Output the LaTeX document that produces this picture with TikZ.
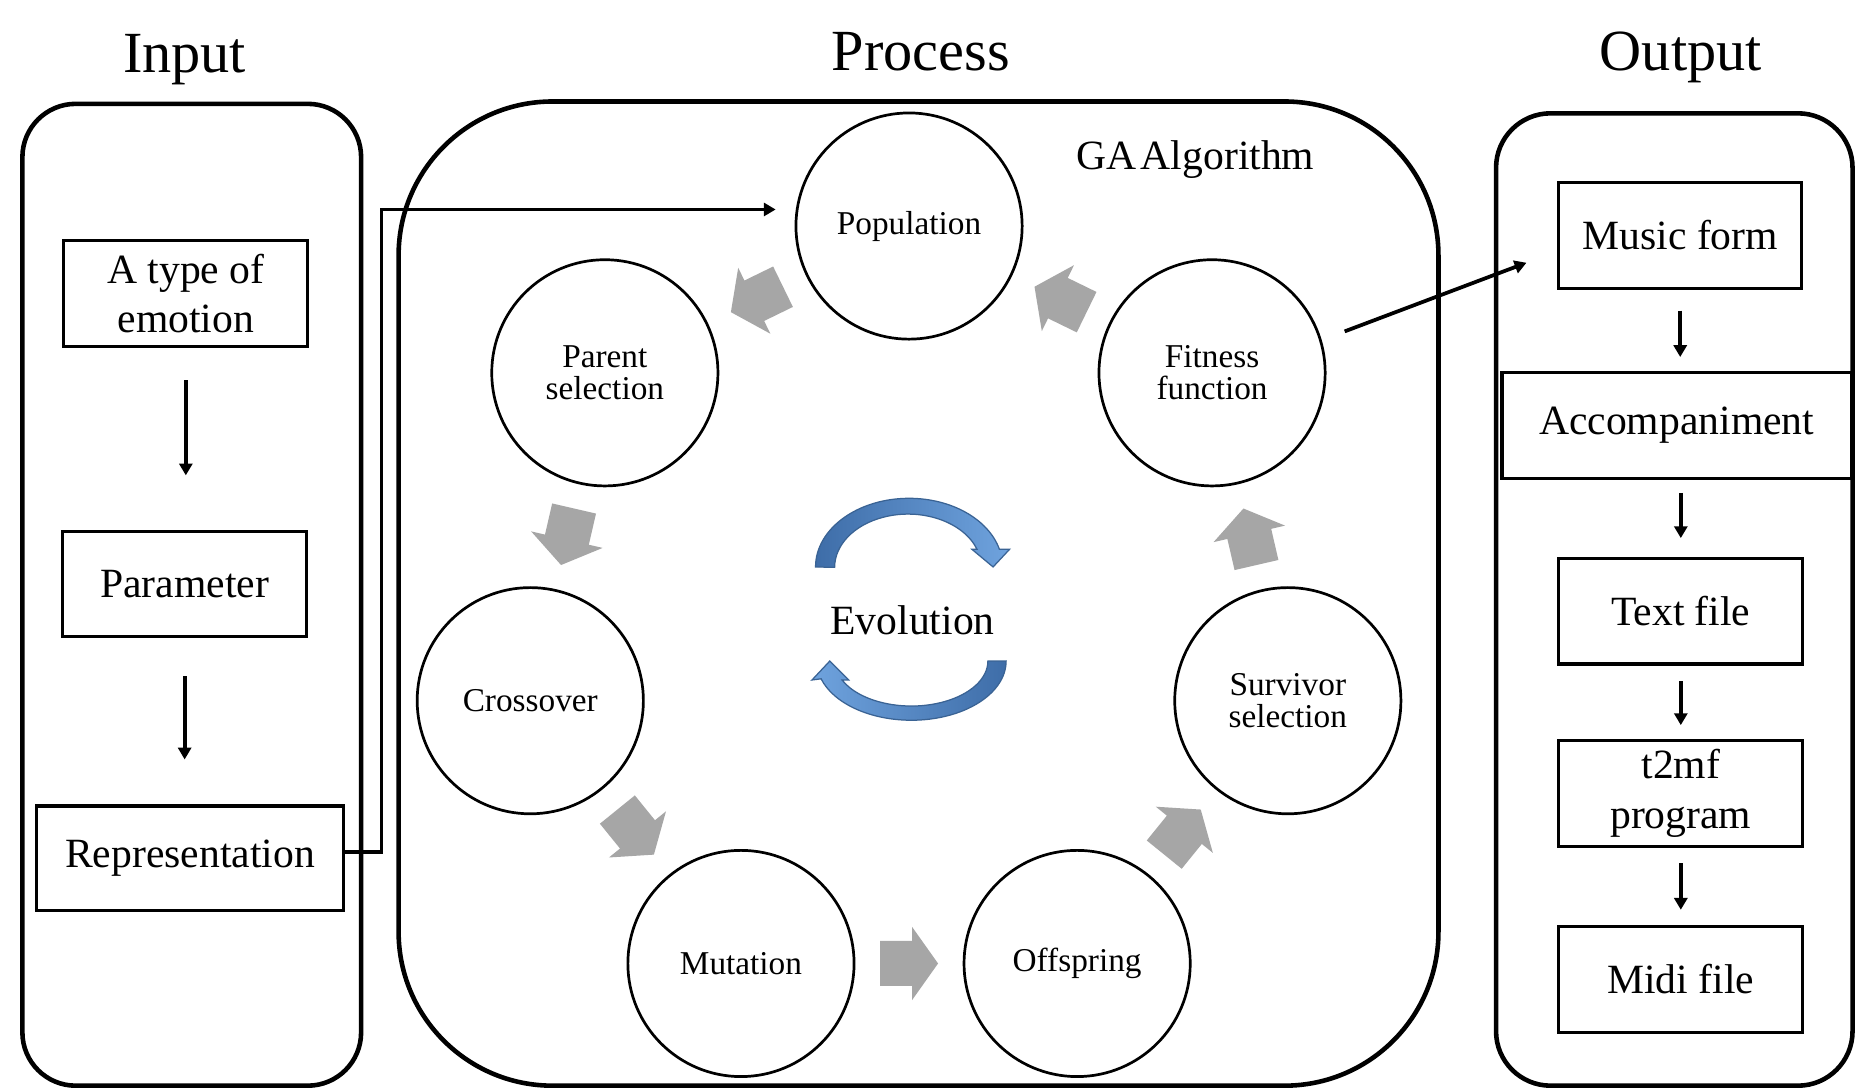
\documentclass[tikz,border=0pt]{standalone}
\usepackage{fontspec}
\setmainfont{Liberation Serif}
\usetikzlibrary{arrows.meta,calc}
\definecolor{arrgray}{HTML}{A6A6A6}
\definecolor{evodark}{HTML}{3E6DA8}
\definecolor{evolight}{HTML}{6FA3DE}
\definecolor{evoline}{HTML}{3A6394}
\begin{document}
\begin{tikzpicture}[x=0.01cm,y=0.01cm,
  title/.style={font=\fontsize{14}{17}\selectfont, anchor=base, inner sep=0pt},
  panel/.style={draw, line width=1.1pt, rectangle, inner sep=0pt},
  box/.style={draw, line width=0.75pt, rectangle, inner sep=0pt, align=center, font=\fontsize{10}{12}\selectfont},
  stage/.style={draw, circle, line width=0.65pt, inner sep=0pt, minimum size=1.91cm, align=center, font=\fontsize{8}{7.7}\selectfont},
  flow/.style={line width=0.9pt, -{Triangle[width=0.11cm,length=0.1cm]}},
  pics/garrow/.style={code={\fill[arrgray] (-24.5,-19) -- (2.5,-19) -- (2.5,-31) -- (24.5,0) -- (2.5,31) -- (2.5,19) -- (-24.5,19) -- cycle;}}
]
\useasboundingbox (0,0) rectangle (1568,919);
\fill[white] (0,0) rectangle (1568,919);

% titles
\node[title] (tin) at (156,858) {Input};
\node[title] (tpr) at (778,859) {Process};
\node[title] (tout) at (1420,859) {Output};

% panels
\node[panel, minimum width=2.86cm, minimum height=8.29cm, rounded corners=0.45cm] (inpanel) at (162,416.5) {};
\node[panel, minimum width=8.78cm, minimum height=8.31cm, rounded corners=1.3cm] (prpanel) at (776,417.5) {};
\node[panel, minimum width=3.01cm, minimum height=8.21cm, rounded corners=0.46cm] (outpanel) at (1414.5,412.5) {};

% input column
\node[box, minimum width=2.06cm, minimum height=0.9cm] (atype) at (157,671) {A type of\\emotion};
\node[box, minimum width=2.06cm, minimum height=0.89cm] (param) at (156,425.5) {Parameter};
\node[box, minimum width=2.59cm, minimum height=0.88cm] (repr) at (160.5,194) {Representation};
\draw[flow, shorten <=0.27cm, shorten >=0.46cm] (atype.south) -- (atype.south |- param.north);
\draw[flow, shorten <=0.32cm, shorten >=0.38cm] (param.south) -- (param.south |- repr.north);

% process circles
\node[stage] (pop) at (768,728) {Population};
\node[stage] (par) at (511,604) {Parent\\selection};
\node[stage] (fit) at (1024,604) {Fitness\\function};
\node[stage] (cro) at (448,327) {Crossover};
\node[stage] (sur) at (1088,327) {Survivor\\selection};
\node[stage] (mut) at (626,105) {Mutation};
\node[stage] (off) at (910,105) {Offspring};
\node[font=\fontsize{10}{12}\selectfont, anchor=base, inner sep=0pt] (ga) at (1010,776) {GA\hspace{0.1em}Algorithm};

% gray block arrows
\pic[rotate=206] at ($(pop)!0.5!(par)$) {garrow};
\pic[rotate=257] at ($(par)!0.5!(cro)$) {garrow};
\pic[rotate=-51] at ($(cro)!0.5!(mut)$) {garrow};
\pic[rotate=0] at ($(mut)!0.5!(off)$) {garrow};
\pic[rotate=51] at ($(off)!0.5!(sur)$) {garrow};
\pic[rotate=103] at ($(sur)!0.5!(fit)$) {garrow};
\pic[rotate=154] at ($(fit)!0.5!(pop)$) {garrow};

% evolution symbol
\node[font=\fontsize{10}{12}\selectfont, anchor=base, inner sep=0pt] (evo) at (771,383) {Evolution};
\begin{scope}[shift={(768,440)}]
\shade[left color=evodark, right color=evolight, draw=evoline, line width=0.3pt]
  (-79,0) arc[start angle=180, end angle=15, x radius=79, y radius=58]
  -- (85,15) -- (71,0) -- (53,15) -- (57.4,15)
  arc[start angle=19.94, end angle=180, x radius=62, y radius=45] -- cycle;
\end{scope}
\begin{scope}[shift={(770,360.5)}]
\shade[left color=evolight, right color=evodark, draw=evoline, line width=0.3pt]
  (80,0) arc[start angle=0, end angle=-162.54, x radius=80, y radius=50]
  -- (-84,-16) -- (-69,0) -- (-53,-16) -- (-58.6,-16)
  arc[start angle=204.9, end angle=360, x radius=64.6, y radius=38] -- cycle;
\end{scope}

% output column
\node[box, minimum width=2.05cm, minimum height=0.9cm] (music) at (1419.5,720) {Music form};
\node[box, minimum width=2.95cm, minimum height=0.89cm] (acc) at (1416.5,559.5) {Accompaniment};
\node[box, minimum width=2.06cm, minimum height=0.89cm] (txt) at (1420,402.5) {Text file};
\node[box, minimum width=2.06cm, minimum height=0.89cm] (t2mf) at (1420,248.5) {t2mf\\program};
\node[box, minimum width=2.06cm, minimum height=0.89cm] (midi) at (1420,91.5) {Midi file};
\draw[flow, shorten <=0.17cm, shorten >=0.12cm] (music.south) -- (music.south |- acc.north);
\draw[flow, shorten <=0.11cm, shorten >=0.16cm] (txt.north |- acc.south) -- (txt.north);
\draw[flow, shorten <=0.13cm, shorten >=0.12cm] (txt.south) -- (t2mf.north);
\draw[flow, shorten <=0.13cm, shorten >=0.13cm] (t2mf.south) -- (midi.north);

% connectors between columns
\draw[flow] ([yshift=0.05cm]repr.east) -- ++(31,0) |- ([shift={(-16,14)}]pop.west);
\draw[flow] ([shift={(112,35)}]fit.center) -- ([shift={(-26,-23)}]music.west);
\end{tikzpicture}
\end{document}
